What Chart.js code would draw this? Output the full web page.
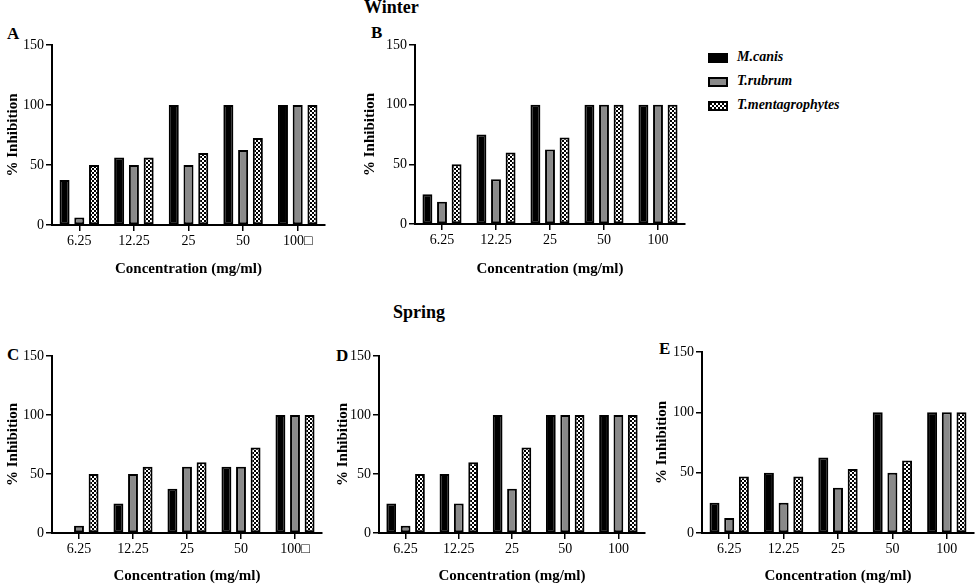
<!DOCTYPE html>
<html>
<head>
<meta charset="utf-8">
<script src="https://cdn.jsdelivr.net/npm/chart.js@4.4.1/dist/chart.umd.min.js"></script>
<style>
  html, body { margin: 0; padding: 0; background: #fff; }
  body { width: 975px; height: 587px; position: relative; overflow: hidden; font-family: "Liberation Serif", serif; color: #000; }
  canvas { position: absolute; }
  .tag { position: absolute; font-weight: bold; font-size: 17px; line-height: 1; }
  .season { position: absolute; font-weight: bold; font-size: 18px; line-height: 1; }
  .legend { position: absolute; left: 708px; top: 48px; }
  .legend .row { position: relative; height: 24px; font: italic bold 14px "Liberation Serif", serif; }
  .legend .row canvas { position: absolute; left: 0; top: 5px; }
  .legend .row span { position: absolute; left: 29px; top: 1px; white-space: nowrap; }
</style>
</head>
<body>
<div class="season" style="left:364px; top:-2px;">Winter</div>
<div class="season" style="left:393px; top:303px;">Spring</div>
<div class="tag" style="left:7px; top:25px;">A</div>
<div class="tag" style="left:371px; top:24px;">B</div>
<div class="tag" style="left:7px; top:346px;">C</div>
<div class="tag" style="left:336px; top:347px;">D</div>
<div class="tag" style="left:659px; top:340px;">E</div>
<div class="legend" id="legend"></div>

<script>
// categories (x tick labels)
const concLabels = ["6.25", "12.25", "25", "50", "100"];
const concLabelsBox = ["6.25", "12.25", "25", "50", "100\u25A1"];
const species = ["M.canis", "T.rubrum", "T.mentagrophytes"];
const yTicks = [0, 50, 100, 150];

// Winter - A
const aCanis = [37.5, 56.25, 100, 100, 100];
const aRubrum = [6.25, 50, 50, 62.5, 100];
const aMenta = [50, 56.25, 60, 72.5, 100];

// Winter - B
const bCanis = [25, 75, 100, 100, 100];
const bRubrum = [18.75, 37.5, 62.5, 100, 100];
const bMenta = [50, 60, 72.5, 100, 100];

// Spring - C
const cCanis = [0, 25, 37.5, 56.25, 100];
const cRubrum = [6.25, 50, 56.25, 56.25, 100];
const cMenta = [50, 56.25, 60, 72.5, 100];

// Spring - D
const dCanis = [25, 50, 100, 100, 100];
const dRubrum = [6.25, 25, 37.5, 100, 100];
const dMenta = [50, 60, 72.5, 100, 100];

// Spring - E
const eCanis = [25, 50, 62.5, 100, 100];
const eRubrum = [12.5, 25, 37.5, 50, 100];
const eMenta = [46.9, 46.9, 53.1, 60, 100];

function checker() {
  const t = document.createElement("canvas");
  t.width = 4; t.height = 4;
  const g = t.getContext("2d");
  g.fillStyle = "#fff"; g.fillRect(0, 0, 4, 4);
  g.fillStyle = "#000"; g.fillRect(0, 0, 2, 2); g.fillRect(2, 2, 2, 2);
  return g.createPattern(t, "repeat");
}

const FILLS = ["#000000", "#8a8a8a", checker()];
const SERIF = "Liberation Serif";
const TITLE_OFF = 12;

Chart.defaults.font.family = SERIF;

// page geometry of each panel's plot box
const PANELS = [
  { labels: concLabelsBox, series: [aCanis, aRubrum, aMenta], box: { x: 0, y: 20, w: 330, h: 270 }, axis: { left: 52, right: 325, top: 45, bottom: 225 }, yTitleX: 9, xTitleY: 270 },
  { labels: concLabels, series: [bCanis, bRubrum, bMenta], box: { x: 330, y: 20, w: 360, h: 270 }, axis: { left: 415, right: 685, top: 45, bottom: 224 }, yTitleX: 369, xTitleY: 270 },
  { labels: concLabelsBox, series: [cCanis, cRubrum, cMenta], box: { x: 0, y: 320, w: 330, h: 267 }, axis: { left: 52, right: 322, top: 356, bottom: 533 }, yTitleX: 12, xTitleY: 577 },
  { labels: concLabels, series: [dCanis, dRubrum, dMenta], box: { x: 330, y: 320, w: 330, h: 267 }, axis: { left: 379, right: 645, top: 356, bottom: 533 }, yTitleX: 340, xTitleY: 577 },
  { labels: concLabels, series: [eCanis, eRubrum, eMenta], box: { x: 640, y: 320, w: 335, h: 267 }, axis: { left: 702, right: 974, top: 352, bottom: 533 }, yTitleX: 661, xTitleY: 577 },
];

function buildPanel(p) {
  const cv = document.createElement("canvas");
  cv.width = p.box.w; cv.height = p.box.h;
  cv.style.left = p.box.x + "px"; cv.style.top = p.box.y + "px";
  document.body.appendChild(cv);

  const padLeft = Math.max(0, p.yTitleX - TITLE_OFF - p.box.x);
  const yWidth = p.axis.left - p.box.x - padLeft;
  const padTop = p.axis.top - p.box.y;
  const padRight = p.box.x + p.box.w - p.axis.right;
  const scaleBottom = p.xTitleY + TITLE_OFF;
  const padBottom = p.box.y + p.box.h - scaleBottom;
  const xHeight = scaleBottom - p.axis.bottom;

  new Chart(cv, {
    type: "bar",
    data: {
      labels: p.labels,
      datasets: p.series.map((vals, i) => ({
        label: species[i],
        data: vals,
        backgroundColor: FILLS[i],
        borderColor: "#000",
        borderWidth: 2,
        borderSkipped: false,
        categoryPercentage: 0.81,
        barPercentage: 0.68,
      })),
    },
    options: {
      responsive: false,
      animation: false,
      devicePixelRatio: 1,
      layout: { padding: { left: padLeft, top: padTop, right: padRight, bottom: padBottom } },
      plugins: { legend: { display: false }, tooltip: { enabled: false } },
      scales: {
        x: {
          grid: { display: true, drawOnChartArea: false, offset: false, color: "#000", lineWidth: 1.5, tickLength: 6 },
          border: { display: true, color: "#000", width: 2 },
          ticks: { color: "#000", font: { family: SERIF, size: 14 }, padding: 2, maxRotation: 0 },
          title: { display: true, text: "Concentration (mg/ml)", color: "#000", font: { family: SERIF, size: 15, weight: "bold" } },
          afterFit: (s) => { s.height = xHeight; },
        },
        y: {
          min: 0, max: 150,
          afterBuildTicks: (s) => { s.ticks = yTicks.map((v) => ({ value: v })); },
          grid: { display: true, drawOnChartArea: false, color: "#000", lineWidth: 1.5, tickLength: 6 },
          border: { display: true, color: "#000", width: 2 },
          ticks: { color: "#000", font: { family: SERIF, size: 14 }, padding: 2 },
          title: { display: true, text: "% Inhibition", color: "#000", font: { family: SERIF, size: 15, weight: "bold" } },
          afterFit: (s) => { s.width = yWidth; },
        },
      },
    },
  });
}

// legend
const legend = document.getElementById("legend");
species.forEach((name, i) => {
  const row = document.createElement("div");
  row.className = "row";
  const sw = document.createElement("canvas");
  sw.width = 20; sw.height = 10;
  const g = sw.getContext("2d");
  g.fillStyle = FILLS[i]; g.fillRect(0, 0, 20, 10);
  g.strokeStyle = "#000"; g.lineWidth = 2; g.strokeRect(1, 1, 18, 8);
  const label = document.createElement("span");
  label.textContent = name;
  row.appendChild(sw); row.appendChild(label);
  legend.appendChild(row);
});

document.fonts.load("14px 'Liberation Serif'").then(() => document.fonts.load("bold 14px 'Liberation Serif'")).then(() => {
  PANELS.forEach(buildPanel);
});
</script>
</body>
</html>
